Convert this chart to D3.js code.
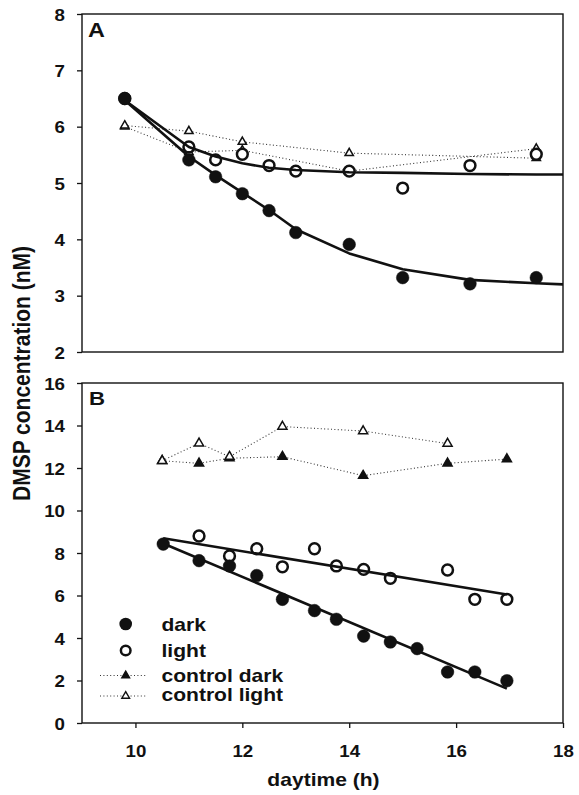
<!DOCTYPE html>
<html><head><meta charset="utf-8">
<script src="https://cdn.jsdelivr.net/npm/d3@7"></script>
<style>body{margin:0;background:#fff}svg{display:block}</style>
</head><body>
<svg id="c" width="579" height="795"></svg>
<script>
// ---------- data ----------
const hoursA = [9.8, 11.0, 11.5, 12.0, 12.5, 13.0, 14.0, 15.0, 16.26, 17.5];
const darkA = [6.5, 5.41, 5.11, 4.81, 4.51, 4.12, 3.91, 3.32, 3.21, 3.32];
const lightA = [6.5, 5.64, 5.41, 5.51, 5.31, 5.21, 5.21, 4.91, 5.31, 5.51];
const fitHoursA = [9.8, 11.0, 11.5, 12.0, 12.5, 13.0, 14.0, 15.0, 16.26, 17.5, 18.0];
const darkFitA = [6.47, 5.47, 5.14, 4.83, 4.52, 4.18, 3.75, 3.47, 3.28, 3.22, 3.20];
const lightFitA = [6.47, 5.64, 5.47, 5.35, 5.27, 5.23, 5.19, 5.18, 5.16, 5.15, 5.15];
const ctrlHoursA = [9.8, 11.0, 12.0, 14.0, 17.5];
const ctrlDarkA = [6.0, 5.55, 5.58, 5.21, 5.61];
const ctrlLightA = [6.02, 5.92, 5.73, 5.53, 5.44];

const hoursDarkB = [10.52, 11.19, 11.76, 12.27, 12.75, 13.35, 13.76, 14.27, 14.77, 15.27, 15.84, 16.35, 16.95];
const darkB = [8.42, 7.64, 7.39, 6.94, 5.82, 5.29, 4.88, 4.09, 3.81, 3.50, 2.40, 2.40, 1.99];
const hoursLightB = [11.19, 11.76, 12.27, 12.75, 13.35, 13.76, 14.27, 14.77, 15.84, 16.35, 16.95];
const lightB = [8.80, 7.86, 8.20, 7.35, 8.20, 7.39, 7.23, 6.81, 7.20, 5.82, 5.82];
const regHoursB = [10.52, 16.95];
const darkRegB = [8.45, 1.62];
const lightRegB = [8.69, 6.05];
const ctrlDarkHoursB = [10.50, 11.19, 11.76, 12.75, 14.26, 15.84, 16.95];
const ctrlDarkB = [12.34, 12.22, 12.46, 12.53, 11.64, 12.22, 12.42];
const ctrlLightHoursB = [10.50, 11.19, 11.76, 12.75, 14.26, 15.84];
const ctrlLightB = [12.34, 13.16, 12.53, 13.95, 13.74, 13.15];

const xTicks = [10, 12, 14, 16, 18];
const yTicksA = [2, 3, 4, 5, 6, 7, 8];
const yTicksB = [0, 2, 4, 6, 8, 10, 12, 14, 16];
const legendLabels = ["dark", "light", "control dark", "control light"];

// ---------- drawing ----------
const FONT = "'Liberation Sans', Arial, sans-serif";
const SX = 1.17; // horizontal stretch of text in reference
const svg = d3.select("#c");
svg.append("rect").attr("width", 579).attr("height", 795).attr("fill", "#fff");

const x = d3.scaleLinear().domain([9, 18]).range([82, 563]);
const yA = d3.scaleLinear().domain([2, 8]).range([352, 14]);
const yB = d3.scaleLinear().domain([0, 16]).range([723, 383]);

function zip(xs, ys) { return xs.map((h, i) => [h, ys[i]]); }

function frame(y) {
  svg.append("rect")
    .attr("x", x.range()[0]).attr("y", y.range()[1])
    .attr("width", x.range()[1] - x.range()[0])
    .attr("height", y.range()[0] - y.range()[1])
    .attr("fill", "none").attr("stroke", "#111").attr("stroke-width", 1.4);
}

function yAxis(y, ticks) {
  const g = svg.append("g").attr("transform", `translate(${x.range()[0]},0)`)
    .call(d3.axisLeft(y).tickValues(ticks).tickSize(5).tickPadding(0).tickFormat(d3.format("d")));
  g.select(".domain").remove();
  g.selectAll(".tick line").attr("stroke", "#111").attr("stroke-width", 1.3);
  g.selectAll(".tick text")
    .attr("x", null).attr("dy", null)
    .attr("transform", "translate(-17,6) scale(" + SX + ",1)")
    .attr("text-anchor", "end")
    .attr("fill", "#111")
    .style("font-family", FONT).style("font-weight", "bold").style("font-size", "16px");
}

function xAxis(y, ticks) {
  const g = svg.append("g").attr("transform", `translate(0,${y.range()[0]})`)
    .call(d3.axisBottom(x).tickValues(ticks).tickSize(5).tickPadding(0).tickFormat(d3.format("d")));
  g.select(".domain").remove();
  g.selectAll(".tick line").attr("stroke", "#111").attr("stroke-width", 1.3);
  g.selectAll(".tick text")
    .attr("y", null).attr("dy", null)
    .attr("transform", "translate(0,34) scale(" + SX + ",1)")
    .attr("text-anchor", "middle")
    .attr("fill", "#111")
    .style("font-family", FONT).style("font-weight", "bold").style("font-size", "16px");
}

function label(txt, px, py, size, anchor, rot) {
  svg.append("text")
    .attr("transform", `translate(${px},${py}) scale(${SX},1)` + (rot ? ` rotate(${rot})` : ""))
    .attr("text-anchor", anchor || "start")
    .attr("fill", "#111")
    .style("font-family", FONT).style("font-weight", "bold").style("font-size", size + "px")
    .text(txt);
}

const tri = d3.symbol().type(d3.symbolTriangle);

function dotted(y, pts) {
  svg.append("path")
    .attr("d", d3.line().x(d => x(d[0])).y(d => y(d[1]))(pts))
    .attr("fill", "none").attr("stroke", "#333").attr("stroke-width", 1.1)
    .attr("stroke-dasharray", "1,2.4");
}
function solid(y, pts) {
  svg.append("path")
    .attr("d", d3.line().x(d => x(d[0])).y(d => y(d[1]))(pts))
    .attr("fill", "none").attr("stroke", "#111").attr("stroke-width", 2.6)
    .attr("stroke-linejoin", "round");
}
function triangles(y, pts, filled, size) {
  svg.append("g").selectAll("path").data(pts).join("path")
    .attr("transform", d => `translate(${x(d[0])},${y(d[1])})`)
    .attr("d", tri.size(size)())
    .attr("fill", filled ? "#111" : "#fff")
    .attr("stroke", "#111").attr("stroke-width", 1.5);
}
function circles(y, pts, filled) {
  svg.append("g").selectAll("circle").data(pts).join("circle")
    .attr("cx", d => x(d[0])).attr("cy", d => y(d[1]))
    .attr("r", filled ? 6.3 : 5.4)
    .attr("fill", filled ? "#111" : "#fff")
    .attr("stroke", "#111").attr("stroke-width", filled ? 0.5 : 2.5);
}

// ----- Panel A -----
frame(yA);
yAxis(yA, yTicksA);
dotted(yA, zip(ctrlHoursA, ctrlDarkA));
dotted(yA, zip(ctrlHoursA, ctrlLightA));
triangles(yA, zip(ctrlHoursA, ctrlDarkA), false, 30);
triangles(yA, zip(ctrlHoursA, ctrlLightA), false, 30);
circles(yA, zip(hoursA, lightA), false);
solid(yA, zip(fitHoursA, lightFitA));
solid(yA, zip(fitHoursA, darkFitA));
circles(yA, zip(hoursA, darkA), true);
label("A", 88, 37, 20, "start");

// ----- Panel B -----
frame(yB);
yAxis(yB, yTicksB);
xAxis(yB, xTicks);
dotted(yB, zip(ctrlDarkHoursB, ctrlDarkB));
dotted(yB, zip(ctrlLightHoursB, ctrlLightB));
triangles(yB, zip(ctrlDarkHoursB, ctrlDarkB), true, 36);
triangles(yB, zip(ctrlLightHoursB, ctrlLightB), false, 36);
circles(yB, zip(hoursLightB, lightB), false);
solid(yB, zip(regHoursB, lightRegB));
solid(yB, zip(regHoursB, darkRegB));
circles(yB, zip(hoursDarkB, darkB), true);
label("B", 89, 405, 19, "start");

// ----- Legend -----
const legSymX = 125.7, legTextX = 161.5;
const legSymY = [624, 650.5, 675.5, 696];
const legTextY = [631, 657, 682, 701];
svg.append("circle").attr("cx", legSymX).attr("cy", legSymY[0]).attr("r", 6.3).attr("fill", "#111");
svg.append("circle").attr("cx", legSymX).attr("cy", legSymY[1]).attr("r", 4.8)
  .attr("fill", "#fff").attr("stroke", "#111").attr("stroke-width", 2.5);
[2, 3].forEach(i => {
  svg.append("line").attr("x1", 100).attr("x2", 147).attr("y1", legSymY[i]).attr("y2", legSymY[i])
    .attr("stroke", "#333").attr("stroke-width", 1.1).attr("stroke-dasharray", "1,2.4");
  svg.append("path").attr("transform", `translate(${legSymX},${legSymY[i]})`)
    .attr("d", tri.size(26)())
    .attr("fill", i === 2 ? "#111" : "#fff").attr("stroke", "#111").attr("stroke-width", 1.4);
});
legendLabels.forEach((t, i) => label(t, legTextX, legTextY[i], 18, "start"));

// ----- Axis titles -----
label("daytime (h)", 323.5, 786, 18, "middle");
label("DMSP concentration (nM)", 30, 373.5, 21, "middle", -90);
</script>
</body></html>
